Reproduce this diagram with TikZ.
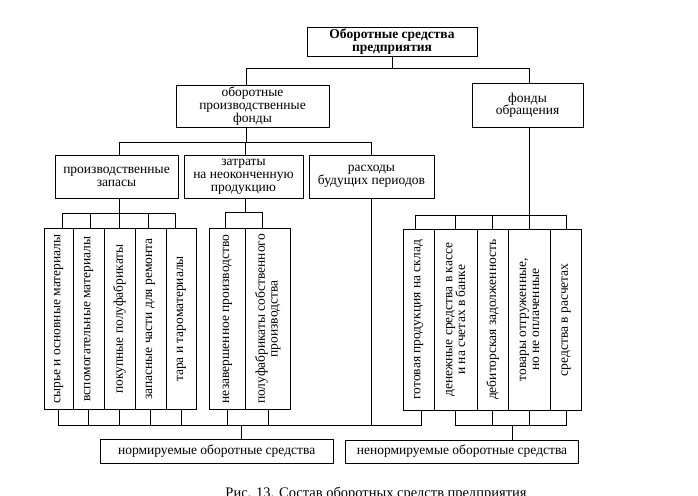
\documentclass[tikz,border=0pt]{standalone}
\usepackage{fontspec}
\setmainfont{Liberation Serif}
\newcommand\myboxfont{\fontsize{13.5}{12.8}\selectfont}
\newcommand\mycapfont{\fontsize{14.5}{15}\selectfont}
\begin{document}
\begin{tikzpicture}[x=1pt,y=-1pt,
  box/.style={draw, line width=0.7pt, inner sep=0pt, align=center, font=\myboxfont},
  vbox/.style={box, rotate=90, minimum width=#1},
  ln/.style={line width=0.7pt}
]
\useasboundingbox (0,0) rectangle (698,495);
% top levels
\node[box, font=\myboxfont\bfseries, minimum width=170pt, minimum height=29pt] (top) at (392,41.5) {Оборотные средства\\предприятия};
\node[box, minimum width=153pt, minimum height=42pt] (opf) at (252.5,106) {оборотные\\производственные\\фонды};
\node[box, minimum width=111pt, minimum height=43.5pt] (fo) at (527.5,105.25) {фонды\\обращения};
\node[box, minimum width=123pt, minimum height=43pt] (zap) at (116.5,176.5) {производственные\\запасы};
\node[box, minimum width=119pt, minimum height=43pt] (zat) at (243.5,176.5) {затраты\\на неоконченную\\продукцию};
\node[box, minimum width=125pt, minimum height=43pt] (rbp) at (371.5,176.5) {расходы\\будущих периодов};
% vertical boxes, left group (rotated: east = top edge, west = bottom edge)
\node[vbox=181pt, minimum height=29.3pt] (l1) at (58.65,319) {сырье и основные материалы};
\node[vbox=181pt, minimum height=30.7pt] (l2) at (88.65,319) {вспомогательные материалы};
\node[vbox=181pt, minimum height=31pt] (l3) at (119.5,319) {покупные полуфабрикаты};
\node[vbox=181pt, minimum height=31pt] (l4) at (150.5,319) {запасные части для ремонта};
\node[vbox=181pt, minimum height=30.7pt] (l5) at (181.35,319) {тара и тароматериалы};
\node[vbox=181pt, minimum height=36.4pt] (m1) at (227.5,319) {незавершенное производство};
\node[vbox=181pt, minimum height=44.3pt] (m2) at (267.85,319) {полуфабрикаты собственного\\производства};
% vertical boxes, right group
\node[vbox=180.5pt, minimum height=30.7pt] (r1) at (418.65,319.75) {готовая продукция на склад};
\node[vbox=180.5pt, minimum height=43.3pt] (r2) at (455.65,319.75) {денежные средства в кассе\\и на счетах в банке};
\node[vbox=180.5pt, minimum height=31pt] (r3) at (492.8,319.75) {дебиторская задолженность};
\node[vbox=180.5pt, minimum height=42.4pt] (r4) at (529.5,319.75) {товары отгруженные,\\но не оплаченные};
\node[vbox=180.5pt, minimum height=31pt] (r5) at (566.2,319.75) {средства в расчетах};
% bottom boxes
\node[box, minimum width=233.3pt, minimum height=23.8pt] (norm) at (216.65,451.4) {нормируемые оборотные средства};
\node[box, minimum width=232.6pt, minimum height=23.3pt] (nenorm) at (462,451.6) {ненормируемые оборотные средства};
% caption (cut by the lower edge, as in the reference)
\node[font=\mycapfont, anchor=base, inner sep=0pt] (cap) at (376,497) {Рис. 13. Состав оборотных средств предприятия};

% helper coordinates
\coordinate (ya) at (0,68.3);
\coordinate (yb) at (0,142.7);
\coordinate (yc) at (0,213.3);
\coordinate (yd) at (0,212.7);
\coordinate (ye) at (0,215.7);
\coordinate (yf) at (0,425);
\coordinate (xa) at (246,0);
\coordinate (xb) at (529,0);
\coordinate (xc) at (119.3,0);
\coordinate (xd) at (245.5,0);
\coordinate (xn) at (241.7,0);
\coordinate (xnn) at (512.7,0);
\coordinate (xr1) at (415.7,0);
\coordinate (xz1) at (62.7,0);
\coordinate (xz2) at (90.7,0);
\coordinate (xz4) at (148.3,0);
\coordinate (xz5) at (175.7,0);
\coordinate (xm1) at (225.7,0);
\coordinate (xm2) at (262,0);

% level 1
\draw[ln] (top.south) -- (top.south |- ya);
\draw[ln] (xa |- opf.north) -- (xa |- ya) -- (xb |- ya) -- (xb |- fo.north);
% level 2
\draw[ln] (xa |- opf.south) -- (xa |- yb);
\draw[ln] (xc |- zap.north) -- (xc |- yb) -- (rbp.north |- yb) -- (rbp.north);
\draw[ln] (xd |- yb) -- (xd |- zat.north);
% level 3: zapasy
\draw[ln] (xc |- zap.south) -- (xc |- yc);
\draw[ln] (xz1 |- l1.east) -- (xz1 |- yc) -- (xz5 |- yc) -- (xz5 |- l5.east);
\draw[ln] (xz2 |- yc) -- (xz2 |- l2.east);
\draw[ln] (xc |- yc) -- (xc |- l3.east);
\draw[ln] (xz4 |- yc) -- (xz4 |- l4.east);
% level 3: zatraty
\draw[ln] (xd |- zat.south) -- (xd |- yd);
\draw[ln] (xm1 |- m1.east) -- (xm1 |- yd) -- (xm2 |- yd) -- (xm2 |- m2.east);
% level 3: fondy obrashcheniya
\draw[ln] (xb |- fo.south) -- (xb |- ye);
\draw[ln] (xr1 |- r1.east) -- (xr1 |- ye) -- (r5.east |- ye) -- (r5.east);
\draw[ln] (r2.east |- ye) -- (r2.east);
\draw[ln] (r3.east |- ye) -- (r3.east);
\draw[ln] (r4.east |- ye) -- (r4.east);
% bottom: normiruemye
\draw[ln] (l1.west) -- (l1.west |- yf) -- ([xshift=2.5pt]r1.west |- yf) -- ([xshift=2.5pt]r1.west);
\foreach \bb in {l2,l3,l4,l5,m1,m2} \draw[ln] (\bb.west) -- (\bb.west |- yf);
\draw[ln] (rbp.south) -- (rbp.south |- yf);
\draw[ln] (xn |- yf) -- (xn |- norm.north);
% bottom: nenormiruemye
\draw[ln] (r2.west) -- (r2.west |- yf) -- (r5.west |- yf) -- (r5.west);
\draw[ln] (r3.west) -- (r3.west |- yf);
\draw[ln] (r4.west) -- (r4.west |- yf);
\draw[ln] (xnn |- yf) -- (xnn |- nenorm.north);
\end{tikzpicture}
\end{document}
